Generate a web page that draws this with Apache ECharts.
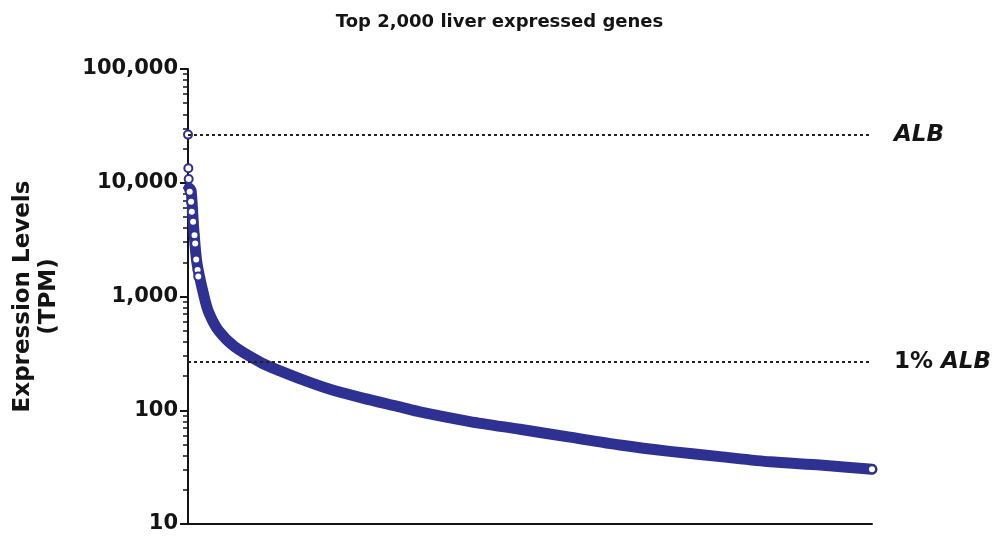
<!DOCTYPE html>
<html>
<head>
<meta charset="utf-8">
<script src="https://cdn.jsdelivr.net/npm/echarts@6/dist/echarts.min.js"></script>
<style>
html,body{margin:0;padding:0;background:#fff;}
#chart{width:999px;height:537px;}
</style>
</head>
<body>
<div id="chart"></div>
<script>
// ---- data ----
const chartTitle = 'Top 2,000 liver expressed genes';
const yAxisName = 'Expression Levels\n(TPM)';
// gene rank (1 = highest expressed) and expression in TPM along the centre of the dense curve
const geneRank = [4, 10, 18, 27, 48, 62, 89, 137, 217, 270, 337, 416, 512, 620, 679, 825, 971, 1117, 1263, 1409, 1556, 1702, 1848, 2000];
const geneTPM  = [9000, 8600, 3850, 1980, 1000, 720, 507, 362, 260, 222, 185, 153, 128, 107, 96.6, 79.5, 68, 58, 49.5, 43.5, 39.1, 35.2, 33, 30.3];
// individually visible open-circle genes (top of the ranking and the last gene)
const openRank = [1, 2, 3, 6, 10, 12, 16, 20, 22, 25, 29, 31, 2000];
const openTPM  = [26500, 13400, 10800, 8340, 6810, 5560, 4540, 3460, 2930, 2110, 1710, 1500, 30.3];
// reference levels
const albTPM = 26500;
const albLabel = 'ALB';
const onePctAlbTPM = 265;
const onePctLabel = '1% ';
// axis ticks
const majorTicks = [10, 100, 1000, 10000, 100000];
const minorTicks = [20, 30, 40, 50, 60, 70, 80, 90, 200, 300, 400, 500, 600, 700, 800, 900, 2000, 3000, 4000, 5000, 6000, 7000, 8000, 9000, 20000, 30000, 40000, 50000, 60000, 70000, 80000, 90000];

const BLUE = '#2e3192';
const INK = '#141414';
const FONT = 'DejaVu Sans';

const chart = echarts.init(document.getElementById('chart'), null, {renderer: 'canvas'});

const curve = geneRank.map((r, i) => [r, geneTPM[i]]);
const opens = openRank.map((r, i) => [r, openTPM[i]]);

const option = {
  animation: false,
  backgroundColor: '#ffffff',
  title: {
    text: chartTitle,
    left: 'center',
    top: 8,
    textStyle: {fontFamily: FONT, fontWeight: 'bold', fontSize: 18, color: INK}
  },
  grid: {left: 188, right: 127, top: 69, bottom: 13, containLabel: false},
  xAxis: {
    type: 'value',
    min: 1,
    max: 2000,
    axisLine: {show: true, lineStyle: {color: INK, width: 2}},
    axisTick: {show: false},
    axisLabel: {show: false},
    splitLine: {show: false}
  },
  yAxis: [
    {
      type: 'log',
      logBase: 10,
      min: majorTicks[0],
      max: majorTicks[majorTicks.length - 1],
      position: 'left',
      name: yAxisName,
      nameLocation: 'middle',
      nameRotate: 90,
      nameGap: 126,
      nameTextStyle: {fontFamily: FONT, fontWeight: 'bold', fontSize: 23, lineHeight: 26, color: INK, align: 'center'},
      axisLine: {show: true, lineStyle: {color: INK, width: 2}},
      axisTick: {show: true, length: 8, lineStyle: {color: INK, width: 2}},
      axisLabel: {
        margin: 10,
        fontFamily: FONT, fontWeight: 'bold', fontSize: 21, color: INK,
        formatter: v => Number(v).toLocaleString('en-US')
      },
      splitLine: {show: false}
    },
    {
      type: 'log',
      logBase: 10,
      min: majorTicks[0],
      max: majorTicks[majorTicks.length - 1],
      position: 'left',
      axisLine: {show: false},
      axisTick: {show: true, length: 5, customValues: minorTicks, lineStyle: {color: INK, width: 1.5}},
      axisLabel: {show: false},
      splitLine: {show: false}
    }
  ],
  series: [
    {
      type: 'line',
      yAxisIndex: 0,
      data: curve,
      showSymbol: false,
      symbol: 'none',
      smooth: 0.25,
      lineStyle: {color: BLUE, width: 11, cap: 'round', join: 'round'},
      z: 2,
      markLine: {
        silent: true,
        symbol: ['none', 'none'],
        lineStyle: {color: '#222', type: [3, 3], width: 2},
        label: {
          position: 'end',
          distance: 22,
          fontFamily: FONT, fontWeight: 'bold', fontSize: 23, color: INK,
          rich: {i: {fontFamily: FONT, fontWeight: 'bold', fontStyle: 'italic', fontSize: 23, color: INK}}
        },
        data: [
          {yAxis: albTPM, label: {formatter: '{i|' + albLabel + '}'}},
          {yAxis: onePctAlbTPM, label: {formatter: onePctLabel + '{i|' + albLabel + '}'}}
        ]
      }
    },
    {
      type: 'scatter',
      yAxisIndex: 0,
      data: opens,
      symbol: 'circle',
      symbolSize: 8,
      itemStyle: {color: '#ffffff', borderColor: BLUE, borderWidth: 2, opacity: 1},
      z: 3
    }
  ]
};
chart.setOption(option);
</script>
</body>
</html>
